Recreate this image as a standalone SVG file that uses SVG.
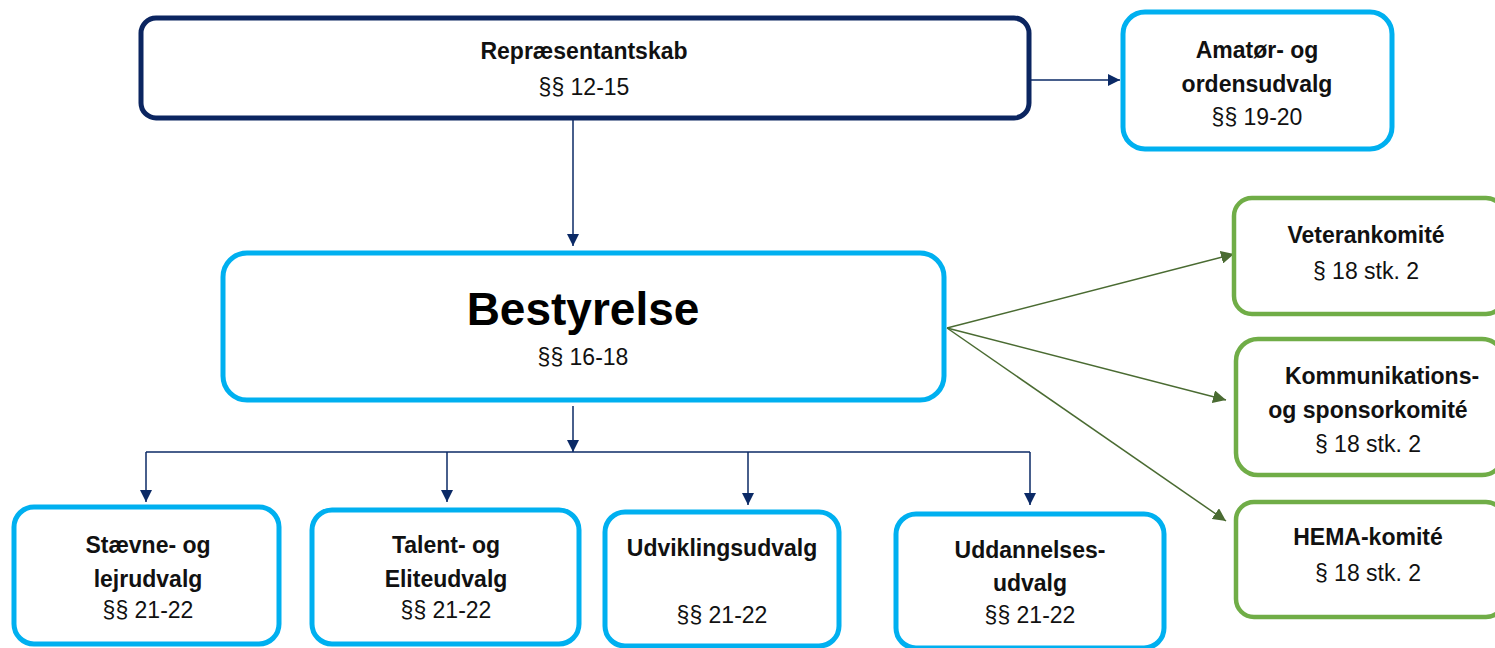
<svg xmlns="http://www.w3.org/2000/svg" width="1495" height="648" viewBox="0 0 1495 648">
<defs>
<style>
.navy{fill:#fff;stroke:#0b2560;stroke-width:5}
.cyan{fill:#fff;stroke:#00b0f0;stroke-width:5}
.green{fill:#fff;stroke:#70ad47;stroke-width:4.5}
.t{font-family:"Liberation Sans",Arial,sans-serif;font-size:23px;fill:#111;text-anchor:middle}
.b{font-weight:bold}
.big{font-family:"Liberation Sans",Arial,sans-serif;font-size:46px;font-weight:bold;fill:#000;text-anchor:middle}
.cn{fill:none;stroke:#0b2a66;stroke-width:1.5}
.cg{fill:none;stroke:#4a6b32;stroke-width:1.5}
</style>
<marker id="an" viewBox="0 0 10 10" refX="10" refY="5" markerWidth="12" markerHeight="12" markerUnits="userSpaceOnUse" orient="auto"><path d="M0,0 L10,5 L0,10 Z" fill="#0b2a66"/></marker>
<marker id="ag" viewBox="0 0 10 10" refX="10" refY="5" markerWidth="13" markerHeight="13" markerUnits="userSpaceOnUse" orient="auto"><path d="M0,0 L10,5 L0,10 Z" fill="#4a6b32"/></marker>
</defs>
<rect width="1495" height="648" fill="#fff"/>
<g id="connectors">
<path class="cn" d="M1030,80 H1120" marker-end="url(#an)"/>
<path class="cn" d="M573,120 V246" marker-end="url(#an)"/>
<path class="cn" d="M573,406 V452"  marker-end="url(#an)"/>
<path class="cn" d="M146,452 H1030"/>
<path class="cn" d="M146,452 V502" marker-end="url(#an)"/>
<path class="cn" d="M447,452 V502" marker-end="url(#an)"/>
<path class="cn" d="M748,452 V505" marker-end="url(#an)"/>
<path class="cn" d="M1030,452 V505" marker-end="url(#an)"/>
<path class="cg" d="M947,328 L1234,254" marker-end="url(#ag)"/>
<path class="cg" d="M947,328 L1226,400" marker-end="url(#ag)"/>
<path class="cg" d="M947,328 L1226,521" marker-end="url(#ag)"/>
</g>
<g id="repraesentantskab">
<rect class="navy" x="141" y="18" width="888" height="100" rx="15"/>
<text class="t b" x="584" y="59">Repræsentantskab</text>
<text class="t" x="584" y="95">§§ 12-15</text>
</g>
<g id="amatoer">
<rect class="cyan" x="1123" y="12" width="269" height="137" rx="22"/>
<text class="t b" x="1257" y="58">Amatør- og</text>
<text class="t b" x="1257" y="92">ordensudvalg</text>
<text class="t" x="1257" y="125">§§ 19-20</text>
</g>
<g id="bestyrelse">
<rect class="cyan" x="223" y="253" width="721" height="147" rx="24"/>
<text class="big" x="583" y="325">Bestyrelse</text>
<text class="t" x="583" y="365">§§ 16-18</text>
</g>
<g id="veterankomite">
<rect class="green" x="1234" y="198" width="270" height="116" rx="18"/>
<text class="t b" x="1366" y="243">Veterankomité</text>
<text class="t" x="1366" y="279">§ 18 stk. 2</text>
</g>
<g id="kommunikation">
<rect class="green" x="1236" y="339" width="268" height="136" rx="22"/>
<text class="t b" x="1382" y="384">Kommunikations-</text>
<text class="t b" x="1368" y="418">og sponsorkomité</text>
<text class="t" x="1368" y="452">§ 18 stk. 2</text>
</g>
<g id="hema">
<rect class="green" x="1236" y="502" width="268" height="115" rx="18"/>
<text class="t b" x="1368" y="545">HEMA-komité</text>
<text class="t" x="1368" y="581">§ 18 stk. 2</text>
</g>
<g id="staevne">
<rect class="cyan" x="14" y="507" width="265" height="137" rx="20"/>
<text class="t b" x="148" y="553">Stævne- og</text>
<text class="t b" x="148" y="587">lejrudvalg</text>
<text class="t" x="148" y="618">§§ 21-22</text>
</g>
<g id="talent">
<rect class="cyan" x="312" y="510" width="267" height="134" rx="20"/>
<text class="t b" x="446" y="553">Talent- og</text>
<text class="t b" x="446" y="587">Eliteudvalg</text>
<text class="t" x="446" y="618">§§ 21-22</text>
</g>
<g id="udvikling">
<rect class="cyan" x="605" y="512" width="234" height="134" rx="20"/>
<text class="t b" x="722" y="556">Udviklingsudvalg</text>
<text class="t" x="722" y="623">§§ 21-22</text>
</g>
<g id="uddannelse">
<rect class="cyan" x="896" y="514" width="268" height="134" rx="20"/>
<text class="t b" x="1030" y="558">Uddannelses-</text>
<text class="t b" x="1030" y="591">udvalg</text>
<text class="t" x="1030" y="623">§§ 21-22</text>
</g>
</svg>
